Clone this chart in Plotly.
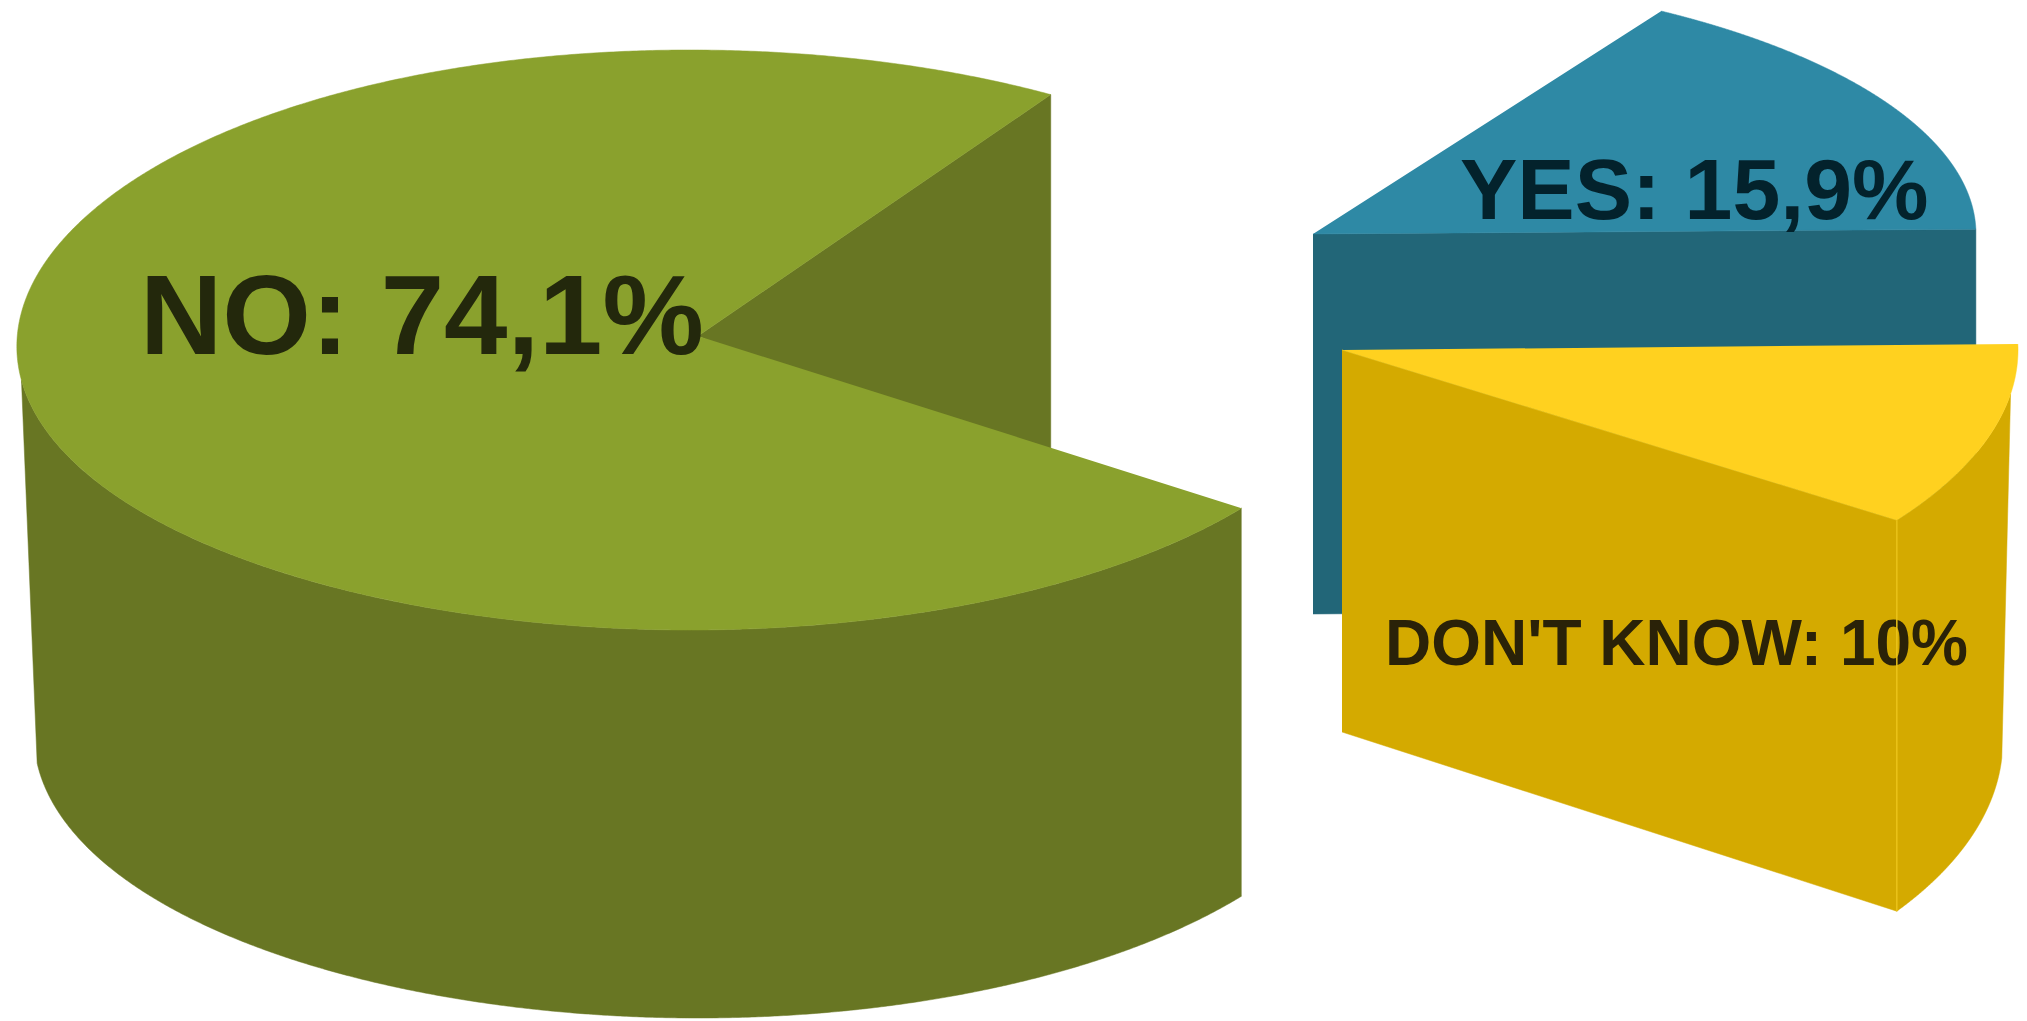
import numpy as np
import plotly.graph_objects as go

# --- data ---
categories = ["NO", "YES", "DON'T KNOW"]
shares = [74.1, 15.9, 10.0]
value_labels = ["NO: 74,1%", "YES: 15,9%", "DON'T KNOW: 10%"]

# --- styling / projection ---
top_colors = ["#8AA12D", "#2E89A5", "#FFD11F"]
wall_colors = ["#687623", "#226678", "#D4AA00"]
text_colors = ["#23280C", "#03222C", "#2A2208"]
text_sizes = [114, 86, 64]
text_x = [140, 1460, 1385]
text_y = [325, 197, 649]
FONT = "Liberation Sans"

geometry = [
    dict(cx=690, cy=340, rx=677, ry=290, ax=698, ay=336, depth=388, taper=9.4, sil_top=188, sil_bot=187,
         skew=15, pull=4, rot=0),
    dict(cx=1313, cy=234, rx=663, ry=262, ax=1313, ay=234, depth=380, skew=0, pull=0, rot=0.5),
    dict(cx=1342, cy=350, rx=676, ry=298, ax=1342, ay=350, depth=391, taper=85, sil_top=-8.5, sil_bot=-3.3,
         skew=0, pull=0, rot=0.6),
]
START_ANGLE = 57.8

# slice angles from the shares: NO runs counter-clockwise from START_ANGLE, the others clockwise
sweeps = [s * 3.6 for s in shares]
spans = [
    (START_ANGLE, START_ANGLE + sweeps[0]),
    (START_ANGLE - sweeps[1], START_ANGLE),
    (START_ANGLE - sweeps[1] - sweeps[2], START_ANGLE - sweeps[1]),
]
spans = [(lo + g["rot"], hi + g["rot"]) for (lo, hi), g in zip(spans, geometry)]


def point(g, t):
    r = np.radians(t)
    s, c = np.sin(r), np.cos(r)
    # the left side of the disc leans a little: its widest point sits below the centre
    left = np.where(c < 0, c * c, 0.0)
    x = g["cx"] + g["rx"] * c + (g["skew"] * s + g["pull"]) * left
    return x, g["cy"] - g["ry"] * s


def arc(g, t0, t1, n=500):
    return point(g, np.linspace(t0, t1, n))


def bottom_arc(g, t0, t1, ref, n=500):
    t = np.linspace(t0, t1, n)
    x, y = point(g, t)
    x = x + g["taper"] * (np.cos(np.radians(ref)) - np.cos(np.radians(t)))
    return x, y + g["depth"]


fig = go.Figure()


def poly(xs, ys, color):
    fig.add_trace(go.Scatter(x=list(xs), y=list(ys), mode="lines", fill="toself", fillcolor=color,
                             line=dict(color=color, width=0.5, simplify=False), hoverinfo="skip", showlegend=False))


for i in (1, 0, 2):
    g = geometry[i]
    lo, hi = spans[i]
    px_lo, py_lo = point(g, lo)
    px_hi, py_hi = point(g, hi)
    d = g["depth"]
    if i == 0:  # NO: inner wall, then the curved outer wall
        poly([g["ax"], px_lo, px_lo], [g["ay"], py_lo, py_lo + d], wall_colors[i])
        tx, ty = arc(g, hi, g["sil_top"])
        bx, by = bottom_arc(g, g["sil_bot"], hi, hi)
        poly(np.r_[tx, bx], np.r_[ty, by], wall_colors[i])
    elif i == 1:  # YES: flat cut face
        poly([g["ax"], px_lo, px_lo, g["ax"]], [g["ay"], py_lo, py_lo + d, g["ay"] + d], wall_colors[i])
    else:  # DON'T KNOW: cut face and curved outer wall
        poly([g["ax"], px_lo, px_lo, g["ax"]], [g["ay"], py_lo, py_lo + d, g["ay"] + 382], wall_colors[i])
        tx, ty = arc(g, lo, g["sil_top"])
        bx, by = bottom_arc(g, g["sil_bot"], lo, lo)
        poly(np.r_[tx, bx], np.r_[ty, by], wall_colors[i])
    ax_, ay_ = arc(g, lo, hi, 800)
    poly(np.r_[g["ax"], ax_], np.r_[g["ay"], ay_], top_colors[i])

for i, lab in enumerate(value_labels):
    fig.add_trace(go.Scatter(x=[text_x[i]], y=[text_y[i]], mode="text", text=[lab],
                             textposition="middle right",
                             textfont=dict(family=FONT, size=text_sizes[i], color=text_colors[i], weight="bold"),
                             hoverinfo="skip", showlegend=False))

# pale crease on the DON'T KNOW wedge, over the label
g = geometry[2]
cx_, cy_ = point(g, spans[2][0])
fig.add_trace(go.Scatter(x=[cx_, cx_], y=[cy_, cy_ + g["depth"]], mode="lines",
                         line=dict(color="#EBC318", width=1.5), hoverinfo="skip", showlegend=False))

fig.update_layout(
    width=2027, height=1021, margin=dict(l=0, r=0, t=0, b=0),
    paper_bgcolor="white", plot_bgcolor="white",
    xaxis=dict(range=[0, 2027], visible=False, fixedrange=True),
    yaxis=dict(range=[1021, 0], visible=False, fixedrange=True),
)
fig.write_html("out.html", config={"displayModeBar": False},
               post_script="document.body.style.margin='0';document.body.style.overflow='hidden';")
